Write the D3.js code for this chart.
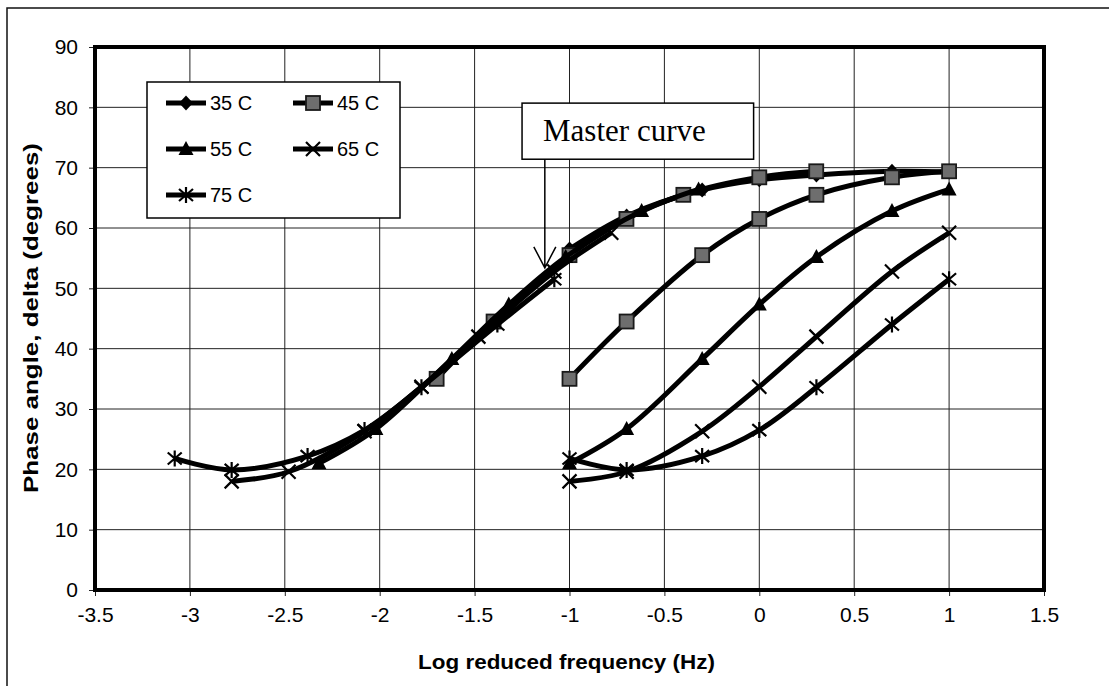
<!DOCTYPE html>
<html>
<head>
<meta charset="utf-8">
<script src="https://cdn.jsdelivr.net/npm/d3@7"></script>
<style>
  html, body { margin: 0; padding: 0; background: #fff; }
  svg { display: block; }
</style>
</head>
<body>
<svg id="chart" width="1109" height="686"></svg>
<script>
// ---- data ----
const xTicks = [-3.5, -3, -2.5, -2, -1.5, -1, -0.5, 0, 0.5, 1, 1.5];
const yTicks = [0, 10, 20, 30, 40, 50, 60, 70, 80, 90];
const temps = ["35 C", "45 C", "55 C", "65 C", "75 C"];
const markers = ["diamond", "square", "triangle", "x", "star"];

// measured (raw) log frequencies
const rawX = [-1, -0.699, -0.301, 0, 0.301, 0.699, 1];

// phase angle values per temperature
const val35 = [56.5, 62.0, 66.3, 68.0, 68.8, 69.4, 69.3];
const val45 = [35.0, 44.5, 55.5, 61.5, 65.5, 68.4, 69.4];
const val55 = [21.0, 26.7, 38.3, 47.3, 55.2, 62.8, 66.4];
const val65 = [18.0, 19.6, 26.3, 33.7, 42.0, 52.8, 59.2];
const val75 = [21.8, 19.9, 22.2, 26.5, 33.6, 44.0, 51.5];

// shifted (reduced) log frequencies forming the master curve
const shift35 = [-1, -0.699, -0.301, 0, 0.301, 0.699, 1];
const shift45 = [-1.70, -1.40, -1.00, -0.70, -0.40, 0.00, 0.30];
const shift55 = [-2.32, -2.02, -1.62, -1.32, -1.02, -0.62, -0.32];
const shift65 = [-2.78, -2.48, -2.08, -1.78, -1.48, -1.08, -0.78];
const shift75 = [-3.08, -2.78, -2.38, -2.08, -1.78, -1.38, -1.08];

const values = [val35, val45, val55, val65, val75];
const shifted = [shift35, shift45, shift55, shift65, shift75];

const annotationText = "Master curve";
const xTitle = "Log reduced frequency (Hz)";
const yTitle = "Phase angle, delta (degrees)";

// ---- layout ----
const svg = d3.select("#chart");
const L = 95, R = 1044, T = 47, B = 590;
const x = d3.scaleLinear().domain([-3.5, 1.5]).range([L, R]);
const y = d3.scaleLinear().domain([0, 90]).range([B, T]);

// outer frame
svg.append("rect").attr("x", 7).attr("y", 8).attr("width", 1120).attr("height", 700)
  .attr("fill", "none").attr("stroke", "#111").attr("stroke-width", 1.5);

// grid
const grid = svg.append("g");
grid.selectAll("line.v").data(xTicks).join("line")
  .attr("x1", d => x(d)).attr("x2", d => x(d)).attr("y1", T).attr("y2", B)
  .attr("stroke", "#222").attr("stroke-width", 1);
grid.selectAll("line.h").data(yTicks).join("line")
  .attr("y1", d => y(d)).attr("y2", d => y(d)).attr("x1", L).attr("x2", R)
  .attr("stroke", "#222").attr("stroke-width", 1);

// axes
const xAxis = d3.axisBottom(x).tickValues(xTicks).tickSize(6).tickPadding(11)
  .tickFormat(d => String(d));
const yAxis = d3.axisLeft(y).tickValues(yTicks).tickSize(6).tickPadding(11)
  .tickFormat(d => String(d));
const gx = svg.append("g").attr("transform", `translate(0,${B})`).call(xAxis);
const gy = svg.append("g").attr("transform", `translate(${L},0)`).call(yAxis);
[gx, gy].forEach(g => {
  g.select(".domain").remove();
  g.selectAll(".tick line").attr("stroke", "#222");
  g.selectAll(".tick text").attr("fill", "#000")
    .style("font-family", "'Liberation Sans', Arial, sans-serif")
    .style("font-size", "21px");
});

// plot border
svg.append("rect").attr("x", L).attr("y", T).attr("width", R - L).attr("height", B - T)
  .attr("fill", "none").attr("stroke", "#000").attr("stroke-width", 4);

// axis titles
svg.append("text").attr("x", (L + R) / 2 - 3).attr("y", 669).attr("text-anchor", "middle")
  .style("font-family", "'Liberation Sans', Arial, sans-serif").style("font-weight", "bold")
  .style("font-size", "21px").attr("textLength", 297).attr("lengthAdjust", "spacingAndGlyphs")
  .text(xTitle);
svg.append("text").attr("transform", `translate(38,${318}) rotate(-90)`).attr("text-anchor", "middle")
  .style("font-family", "'Liberation Sans', Arial, sans-serif").style("font-weight", "bold")
  .style("font-size", "21px").attr("textLength", 350).attr("lengthAdjust", "spacingAndGlyphs")
  .text(yTitle);

// marker drawing
function drawMarker(g, type, cx, cy) {
  const m = g.append("g").attr("transform", `translate(${cx},${cy})`);
  if (type === "diamond") {
    m.append("path").attr("d", "M0,-7.5L7,0L0,7.5L-7,0Z").attr("fill", "#000");
  } else if (type === "square") {
    m.append("rect").attr("x", -7).attr("y", -7).attr("width", 14).attr("height", 14)
      .attr("fill", "#6e6e6e").attr("stroke", "#1a1a1a").attr("stroke-width", 1.8);
  } else if (type === "triangle") {
    m.append("path").attr("d", "M0,-8L7.5,6L-7.5,6Z").attr("fill", "#000");
  } else if (type === "x") {
    m.append("path").attr("d", "M-7,-7L7,7M-7,7L7,-7").attr("stroke", "#000").attr("stroke-width", 2.2);
  } else if (type === "star") {
    m.append("path").attr("d", "M-7,-6L7,6M-7,6L7,-6M0,-8L0,8").attr("stroke", "#000").attr("stroke-width", 2.2);
  }
}

const line = d3.line().x(d => x(d[0])).y(d => y(d[1])).curve(d3.curveCatmullRom.alpha(0.5));

const plot = svg.append("g");
temps.forEach((t, i) => {
  const shiftedPts = shifted[i].map((sx, k) => [sx, values[i][k]]);
  const rawPts = rawX.map((rx, k) => [rx, values[i][k]]);
  const sets = i === 0 ? [shiftedPts] : [shiftedPts, rawPts];
  sets.forEach(pts => {
    plot.append("path").datum(pts).attr("d", line)
      .attr("fill", "none").attr("stroke", "#000").attr("stroke-width", 5)
      .attr("stroke-linejoin", "round");
    pts.forEach(p => drawMarker(plot, markers[i], x(p[0]), y(p[1])));
  });
});

// legend
const lg = svg.append("g");
lg.append("rect").attr("x", 147).attr("y", 82).attr("width", 253).attr("height", 136)
  .attr("fill", "#fff").attr("stroke", "#000").attr("stroke-width", 1.5);
const legendPos = [[166, 103], [293, 103], [166, 149], [293, 149], [166, 195]];
temps.forEach((t, i) => {
  const [lx, ly] = legendPos[i];
  lg.append("line").attr("x1", lx).attr("x2", lx + 40).attr("y1", ly).attr("y2", ly)
    .attr("stroke", "#000").attr("stroke-width", 5);
  drawMarker(lg, markers[i], lx + 20, ly);
  lg.append("text").attr("x", lx + 44).attr("y", ly + 7)
    .style("font-family", "'Liberation Sans', Arial, sans-serif").style("font-size", "20px")
    .text(t);
});

// annotation box and arrow
const bx0 = x(-1.25), bx1 = x(-0.03), by0 = y(80.7), by1 = y(71.4);
svg.append("rect").attr("x", bx0).attr("y", by0).attr("width", bx1 - bx0).attr("height", by1 - by0)
  .attr("fill", "#fff").attr("stroke", "#000").attr("stroke-width", 1.5);
svg.append("text").attr("x", bx0 + 21).attr("y", by0 + 38)
  .style("font-family", "'Liberation Serif', 'Times New Roman', serif").style("font-size", "31px")
  .text(annotationText);
const ax = x(-1.13), tipY = y(53.4);
svg.append("path")
  .attr("d", `M${ax},${by1}L${ax},${tipY}M${ax - 11},${tipY - 21}L${ax},${tipY}L${ax + 11},${tipY - 21}`)
  .attr("fill", "none").attr("stroke", "#000").attr("stroke-width", 1.5);
</script>
</body>
</html>
